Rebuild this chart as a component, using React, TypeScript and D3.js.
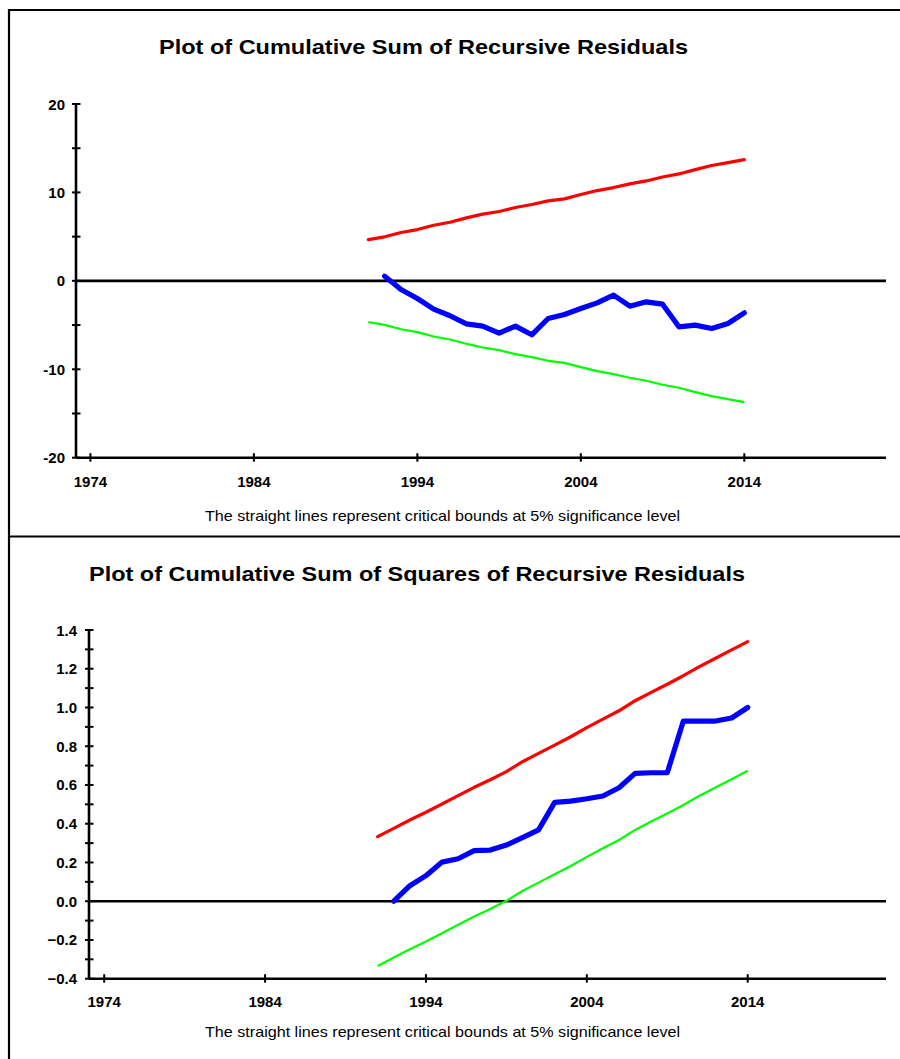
import React from 'react';
import * as d3 from 'd3';

// years of the recursive estimates
const boundYears = [1991, 1992, 1993, 1994, 1995, 1996, 1997, 1998, 1999, 2000, 2001, 2002,
  2003, 2004, 2005, 2006, 2007, 2008, 2009, 2010, 2011, 2012, 2013, 2014];
const statYears = boundYears.slice(1);

// CUSUM panel
const cusumUpper = [4.67, 4.98, 5.47, 5.8, 6.29, 6.63, 7.12, 7.54, 7.84, 8.29, 8.63, 9.04,
  9.27, 9.76, 10.21, 10.55, 10.96, 11.3, 11.75, 12.09, 12.58, 13.04, 13.37, 13.71];
const cusumLower = [-4.67, -4.98, -5.47, -5.8, -6.29, -6.63, -7.12, -7.54, -7.84, -8.29, -8.63, -9.04,
  -9.27, -9.76, -10.21, -10.55, -10.96, -11.3, -11.75, -12.09, -12.58, -13.04, -13.37, -13.71];
const cusumStat = [0.53, -0.98, -2.0, -3.2, -3.95, -4.86, -5.12, -5.91, -5.12, -6.1, -4.26, -3.8,
  -3.13, -2.49, -1.62, -2.86, -2.37, -2.64, -5.2, -5.01, -5.39, -4.82, -3.62];

// CUSUMSQ panel
const sqUpper = [0.333, 0.376, 0.419, 0.459, 0.502, 0.545, 0.588, 0.627, 0.669, 0.72, 0.763, 0.806,
  0.849, 0.896, 0.94, 0.983, 1.035, 1.078, 1.12, 1.164, 1.211, 1.254, 1.297, 1.34];
const sqLower = [-0.334, -0.291, -0.248, -0.208, -0.165, -0.122, -0.079, -0.04, 0.002, 0.053, 0.096, 0.139,
  0.182, 0.229, 0.273, 0.316, 0.368, 0.411, 0.453, 0.497, 0.544, 0.587, 0.63, 0.673];
const sqStat = [0.0, 0.08, 0.132, 0.202, 0.219, 0.261, 0.264, 0.29, 0.328, 0.368, 0.51, 0.517,
  0.529, 0.543, 0.586, 0.66, 0.663, 0.663, 0.93, 0.93, 0.93, 0.946, 1.0];

const yearTicks = [1974, 1984, 1994, 2004, 2014];
const cusumTicks = [-20, -15, -10, -5, 0, 5, 10, 15, 20];
const cusumLabels = [-20, -10, 0, 10, 20];
const sqTicks = [-0.4, -0.3, -0.2, -0.1, 0, 0.1, 0.2, 0.3, 0.4, 0.5, 0.6, 0.7, 0.8, 0.9, 1.0, 1.1, 1.2, 1.3, 1.4];
const sqLabels = [-0.4, -0.2, 0, 0.2, 0.4, 0.6, 0.8, 1.0, 1.2, 1.4];

const caption = 'The straight lines represent critical bounds at 5% significance level';
const font = '"Liberation Sans", Arial, sans-serif';

type PanelProps = {
  title: string;
  titleX: number;
  titleY: number;
  titleW: number;
  x: d3.ScaleLinear<number, number>;
  y: d3.ScaleLinear<number, number>;
  axisLeft: number;
  axisRight: number;
  ticks: number[];
  labels: number[];
  fmt: (v: number) => string;
  upper: number[];
  lower: number[];
  stat: number[];
  labelRight: number;
  yearY: number;
  captionY: number;
};

const Panel = (p: PanelProps) => {
  const [y0, y1] = p.y.domain();
  const bottom = p.y(y0);
  const top = p.y(y1);
  const bound = d3.line<number>().x((_, i) => p.x(boundYears[i])).y((d) => p.y(d));
  const statLine = d3.line<number>().x((_, i) => p.x(statYears[i])).y((d) => p.y(d));
  return (
    <g>
      <text x={p.titleX} y={p.titleY} fontFamily={font} fontWeight="bold" fontSize={21}
        textLength={p.titleW} lengthAdjust="spacingAndGlyphs">{p.title}</text>
      {/* y axis */}
      <line x1={p.axisLeft} x2={p.axisLeft} y1={top} y2={bottom} stroke="black" strokeWidth={2.6} />
      {p.ticks.map((t) => (
        <line key={'t' + t} x1={p.axisLeft - 4} x2={p.axisLeft + 4.5} y1={p.y(t)} y2={p.y(t)} stroke="black" strokeWidth={2} />
      ))}
      {p.labels.map((t) => (
        <text key={'l' + t} x={p.labelRight} y={p.y(t) + 5.5} textAnchor="end" fontFamily={font}
          fontWeight="bold" fontSize={15}>{p.fmt(t)}</text>
      ))}
      {/* x axis */}
      <line x1={p.axisLeft} x2={p.axisRight} y1={bottom} y2={bottom} stroke="black" strokeWidth={2.6} />
      {yearTicks.map((t) => (
        <g key={'x' + t}>
          <line x1={p.x(t)} x2={p.x(t)} y1={bottom - 4.5} y2={bottom + 4} stroke="black" strokeWidth={2} />
          <text x={p.x(t)} y={p.yearY} textAnchor="middle" fontFamily={font} fontWeight="bold" fontSize={15}>{t}</text>
        </g>
      ))}
      {/* zero line */}
      <line x1={p.axisLeft} x2={p.axisRight} y1={p.y(0)} y2={p.y(0)} stroke="black" strokeWidth={2.6} />
      <path d={bound(p.upper) ?? ''} fill="none" stroke="#ff0000" strokeWidth={3.2} strokeLinecap="round" strokeLinejoin="round" />
      <path d={bound(p.lower) ?? ''} fill="none" stroke="#00ff00" strokeWidth={2.2} strokeLinejoin="round" />
      <path d={statLine(p.stat) ?? ''} fill="none" stroke="#0000ff" strokeWidth={5.2} strokeLinecap="round" strokeLinejoin="round" />
      <text x={205} y={p.captionY} fontFamily={font} fontSize={14.5} textLength={475}
        lengthAdjust="spacingAndGlyphs">{caption}</text>
    </g>
  );
};

const App = () => {
  const xTop = d3.scaleLinear().domain([1974, 2014]).range([90.4, 744.3]);
  const yTop = d3.scaleLinear().domain([-20, 20]).range([457.7, 104]);
  const xBot = d3.scaleLinear().domain([1974, 2014]).range([104.2, 747.7]);
  const yBot = d3.scaleLinear().domain([-0.4, 1.4]).range([978.7, 630]);
  const f1 = d3.format('.1f');

  return (
    <svg width={900} height={1059} style={{ position: 'absolute', left: 0, top: 0, background: 'white' }}>
      <rect x={0} y={0} width={900} height={1059} fill="white" />
      {/* frame */}
      <line x1={9} x2={900} y1={10} y2={10} stroke="black" strokeWidth={2.2} />
      <line x1={9} x2={9} y1={9} y2={1059} stroke="black" strokeWidth={2.2} />
      <line x1={9} x2={900} y1={536.5} y2={536.5} stroke="black" strokeWidth={2.2} />
      <Panel title="Plot of Cumulative Sum of Recursive Residuals" titleX={159} titleY={54} titleW={529}
        x={xTop} y={yTop} axisLeft={76} axisRight={886} ticks={cusumTicks} labels={cusumLabels}
        fmt={(v) => String(v)} upper={cusumUpper} lower={cusumLower} stat={cusumStat}
        labelRight={65} yearY={487} captionY={521} />
      <Panel title="Plot of Cumulative Sum of Squares of Recursive Residuals" titleX={89} titleY={581} titleW={656}
        x={xBot} y={yBot} axisLeft={89} axisRight={886} ticks={sqTicks} labels={sqLabels}
        fmt={(v) => f1(v)} upper={sqUpper} lower={sqLower} stat={sqStat}
        labelRight={77} yearY={1007} captionY={1037} />
    </svg>
  );
};

export default App;
